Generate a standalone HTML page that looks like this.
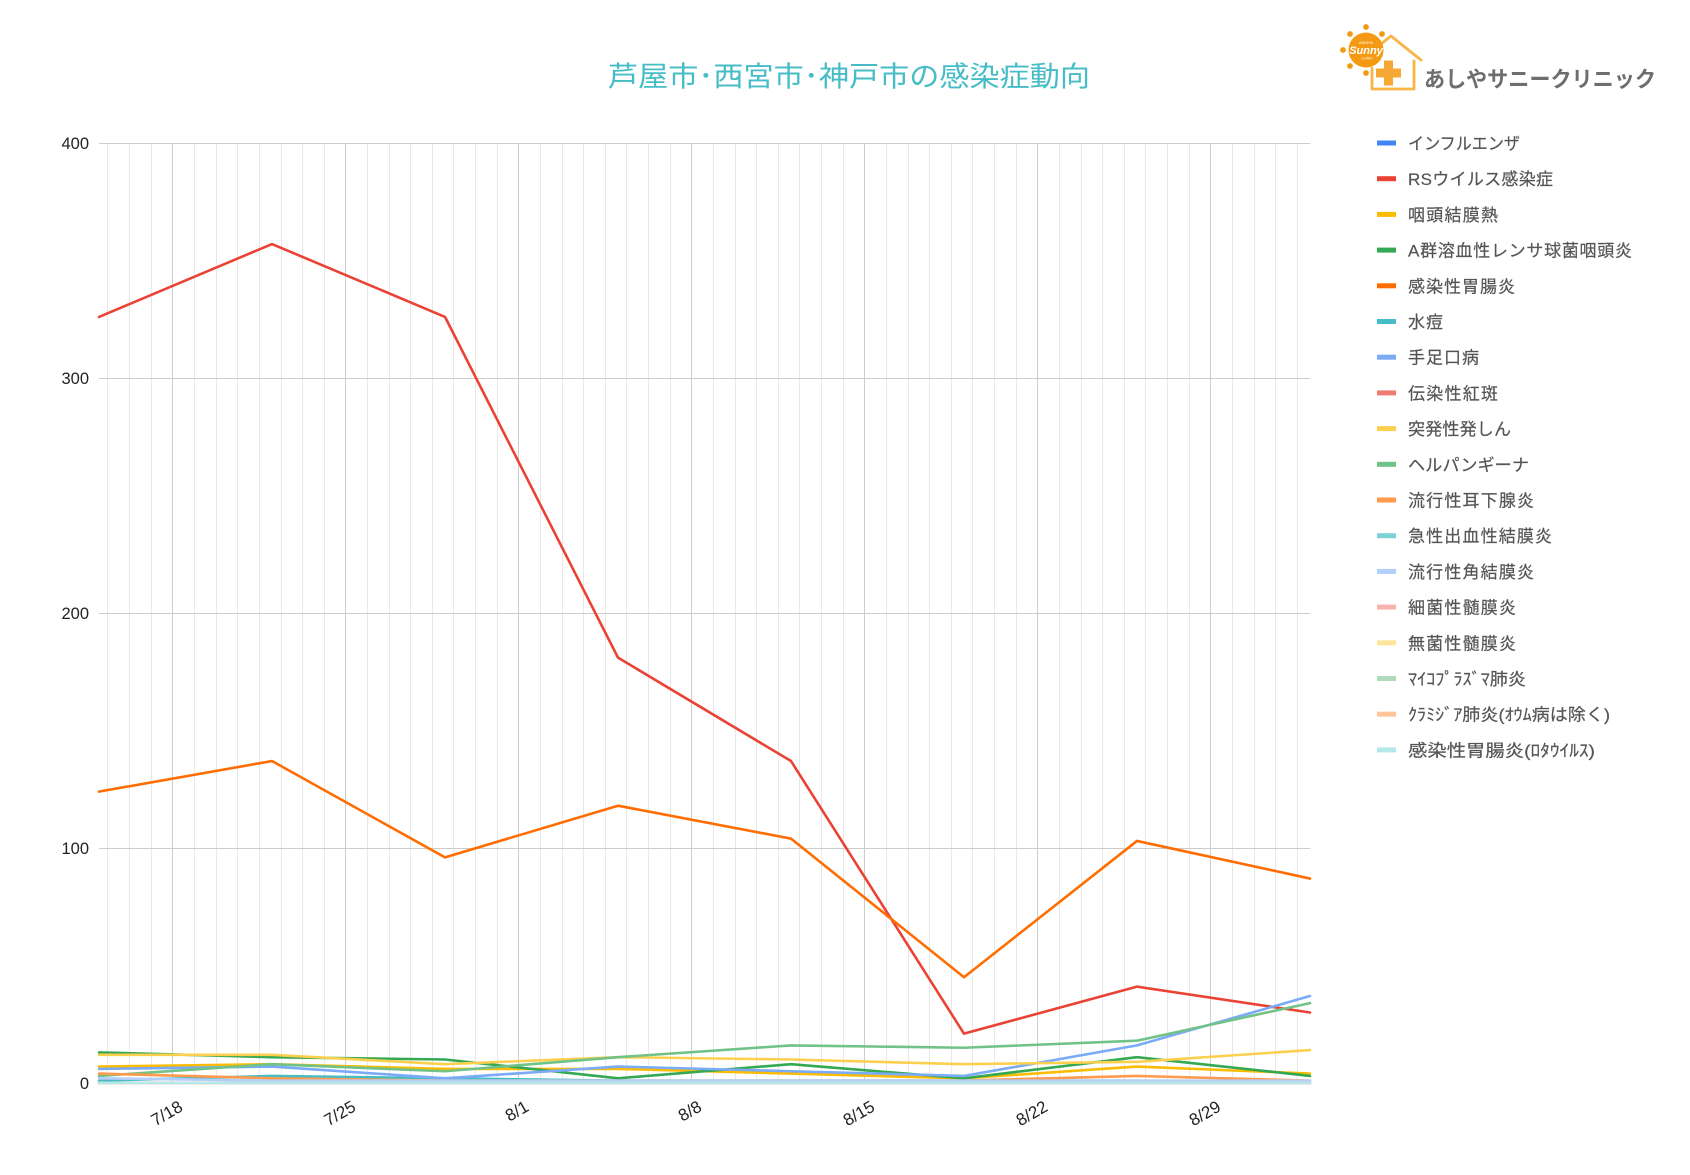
<!DOCTYPE html>
<html>
<head>
<meta charset="utf-8">
<style>
  html,body{margin:0;padding:0;background:#fff;}
  svg{display:block;}
  text{font-family:"Liberation Sans","Noto Sans CJK JP",sans-serif;}
</style>
</head>
<body>
<svg width="1690" height="1175" viewBox="0 0 1690 1175" xmlns="http://www.w3.org/2000/svg">
  <rect width="1690" height="1175" fill="#ffffff"/>

  <!-- Title -->
  <text x="608" y="86" font-size="28" fill="#46bdc6" textLength="482" lengthAdjust="spacingAndGlyphs">芦屋市･西宮市･神戸市の感染症動向</text>

  <!-- Logo -->
  <g>
    <path d="M1372,68 L1372,89 L1414,89 L1414,61 M1421,60 L1391,36 L1361,60" fill="none" stroke="#f7b548" stroke-width="2.8" stroke-linejoin="round" stroke-linecap="round"/>
    <g fill="#f39a12">
      <circle cx="1366" cy="27" r="2.9"/>
      <circle cx="1382" cy="34" r="2.9"/>
      <circle cx="1350" cy="34" r="2.9"/>
      <circle cx="1343" cy="50" r="2.9"/>
      <circle cx="1350" cy="66" r="2.9"/>
      <circle cx="1366" cy="73" r="2.9"/>
      <circle cx="1366" cy="50" r="17.5"/>
    </g>
    <text x="1366" y="44" font-size="4" fill="#fff" text-anchor="middle">ASHIYA</text>
    <text x="1366" y="54" font-size="11" font-weight="bold" font-style="italic" fill="#fff" text-anchor="middle">Sunny</text>
    <text x="1367" y="59.5" font-size="3.5" fill="#fff" text-anchor="middle">CLINIC</text>
    <rect x="1376" y="68.5" width="25" height="9" fill="#f5a833"/>
    <rect x="1384" y="60.5" width="9" height="25" fill="#f5a833"/>
    <text x="1424" y="87" font-size="22" font-weight="bold" fill="#6e6e6e" textLength="232" lengthAdjust="spacingAndGlyphs">あしやサニークリニック</text>
  </g>

  <!-- Minor vertical gridlines -->
  <path fill="none" stroke="#e8e8e8" stroke-width="1" d="
  M107.5,143V1083 M129.5,143V1083 M151.5,143V1083
  M194.5,143V1083 M216.5,143V1083 M237.5,143V1083 M259.5,143V1083 M281.5,143V1083 M302.5,143V1083 M324.5,143V1083
  M367.5,143V1083 M389.5,143V1083 M410.5,143V1083 M432.5,143V1083 M453.5,143V1083 M475.5,143V1083 M497.5,143V1083
  M540.5,143V1083 M562.5,143V1083 M583.5,143V1083 M605.5,143V1083 M626.5,143V1083 M648.5,143V1083 M670.5,143V1083
  M713.5,143V1083 M735.5,143V1083 M756.5,143V1083 M778.5,143V1083 M799.5,143V1083 M821.5,143V1083 M843.5,143V1083
  M886.5,143V1083 M908.5,143V1083 M929.5,143V1083 M951.5,143V1083 M972.5,143V1083 M994.5,143V1083 M1016.5,143V1083
  M1059.5,143V1083 M1081.5,143V1083 M1102.5,143V1083 M1124.5,143V1083 M1145.5,143V1083 M1167.5,143V1083 M1189.5,143V1083
  M1232.5,143V1083 M1254.5,143V1083 M1275.5,143V1083 M1297.5,143V1083"/>

  <!-- Major vertical gridlines -->
  <path fill="none" stroke="#cccccc" stroke-width="1" d="
  M172.5,143V1083 M345.5,143V1083 M518.5,143V1083 M691.5,143V1083 M864.5,143V1083 M1037.5,143V1083 M1210.5,143V1083"/>

  <!-- Horizontal gridlines -->
  <path fill="none" stroke="#cccccc" stroke-width="1" d="
  M99,143.5H1310 M99,378.5H1310 M99,613.5H1310 M99,848.5H1310"/>
  <path fill="none" stroke="#b8b8b8" stroke-width="1.5" d="M99,1083H1310"/>

  <!-- Y labels -->
  <g font-size="16.5" fill="#222" text-anchor="end">
    <text x="89" y="149">400</text>
    <text x="89" y="384">300</text>
    <text x="89" y="619">200</text>
    <text x="89" y="854">100</text>
    <text x="89" y="1089">0</text>
  </g>

  <!-- X labels -->
  <g font-size="17" fill="#222" text-anchor="end">
    <text x="184" y="1110" transform="rotate(-30 184 1110)">7/18</text>
    <text x="357" y="1110" transform="rotate(-30 357 1110)">7/25</text>
    <text x="530" y="1110" transform="rotate(-30 530 1110)">8/1</text>
    <text x="703" y="1110" transform="rotate(-30 703 1110)">8/8</text>
    <text x="876" y="1110" transform="rotate(-30 876 1110)">8/15</text>
    <text x="1049" y="1110" transform="rotate(-30 1049 1110)">8/22</text>
    <text x="1222" y="1110" transform="rotate(-30 1222 1110)">8/29</text>
  </g>

  <!-- Series -->
  <g transform="translate(0,1083) scale(1,-2.35)" fill="none" stroke-width="2.6" stroke-linejoin="round" stroke-linecap="round">
    <polyline vector-effect="non-scaling-stroke" stroke="#4285f4" points="99,0 272,0 445,0 618,0 791,0 964,0 1137,0 1310,0"/>
    <polyline vector-effect="non-scaling-stroke" stroke="#ea4335" points="99,326 272,357 445,326 618,181 791,137 964,21 1137,41 1310,30"/>
    <polyline vector-effect="non-scaling-stroke" stroke="#fbbc04" points="99,7 272,8 445,6 618,6 791,4 964,2 1137,7 1310,4"/>
    <polyline vector-effect="non-scaling-stroke" stroke="#34a853" points="99,13 272,11 445,10 618,2 791,8 964,2 1137,11 1310,3"/>
    <polyline vector-effect="non-scaling-stroke" stroke="#ff6d01" points="99,124 272,137 445,96 618,118 791,104 964,45 1137,103 1310,87"/>
    <polyline vector-effect="non-scaling-stroke" stroke="#46bdc6" points="99,1 272,3 445,2 618,1 791,1 964,1 1137,1 1310,0"/>
    <polyline vector-effect="non-scaling-stroke" stroke="#7baaf7" points="99,6 272,7 445,2 618,7 791,5 964,3 1137,16 1310,37"/>
    <polyline vector-effect="non-scaling-stroke" stroke="#f07b72" points="99,0 272,0 445,0 618,0 791,0 964,0 1137,0 1310,0"/>
    <polyline vector-effect="non-scaling-stroke" stroke="#fcd04f" points="99,12 272,12 445,8 618,11 791,10 964,8 1137,9 1310,14"/>
    <polyline vector-effect="non-scaling-stroke" stroke="#71c287" points="99,3 272,8 445,5 618,11 791,16 964,15 1137,18 1310,34"/>
    <polyline vector-effect="non-scaling-stroke" stroke="#ff994d" points="99,4 272,2 445,1 618,1 791,1 964,1 1137,3 1310,1"/>
    <polyline vector-effect="non-scaling-stroke" stroke="#7ed1d7" points="99,0 272,0 445,0 618,0 791,0 964,0 1137,0 1310,0"/>
    <polyline vector-effect="non-scaling-stroke" stroke="#b3cefb" points="99,2 272,1 445,1 618,1 791,1 964,1 1137,1 1310,1"/>
    <polyline vector-effect="non-scaling-stroke" stroke="#f7b4ae" points="99,0 272,0 445,0 618,0 791,0 964,0 1137,0 1310,0"/>
    <polyline vector-effect="non-scaling-stroke" stroke="#fde49b" points="99,0 272,0 445,0 618,0 791,0 964,0 1137,0 1310,0"/>
    <polyline vector-effect="non-scaling-stroke" stroke="#aedcba" points="99,0 272,0 445,0 618,0 791,0 964,0 1137,0 1310,0"/>
    <polyline vector-effect="non-scaling-stroke" stroke="#ffc599" points="99,0 272,0 445,0 618,0 791,0 964,0 1137,0 1310,0"/>
    <polyline vector-effect="non-scaling-stroke" stroke="#b5e8eb" points="99,0 272,0 445,0 618,0 791,0 964,0 1137,0 1310,0"/>
  </g>

  <!-- Legend -->
  <g>
    <rect x="1377" y="140.5" width="19" height="5" fill="#4285f4"/>
    <rect x="1377" y="176.2" width="19" height="5" fill="#ea4335"/>
    <rect x="1377" y="211.9" width="19" height="5" fill="#fbbc04"/>
    <rect x="1377" y="247.6" width="19" height="5" fill="#34a853"/>
    <rect x="1377" y="283.3" width="19" height="5" fill="#ff6d01"/>
    <rect x="1377" y="319" width="19" height="5" fill="#46bdc6"/>
    <rect x="1377" y="354.7" width="19" height="5" fill="#7baaf7"/>
    <rect x="1377" y="390.4" width="19" height="5" fill="#f07b72"/>
    <rect x="1377" y="426.1" width="19" height="5" fill="#fcd04f"/>
    <rect x="1377" y="461.8" width="19" height="5" fill="#71c287"/>
    <rect x="1377" y="497.5" width="19" height="5" fill="#ff994d"/>
    <rect x="1377" y="533.2" width="19" height="5" fill="#7ed1d7"/>
    <rect x="1377" y="568.9" width="19" height="5" fill="#b3cefb"/>
    <rect x="1377" y="604.6" width="19" height="5" fill="#f7b4ae"/>
    <rect x="1377" y="640.3" width="19" height="5" fill="#fde49b"/>
    <rect x="1377" y="676" width="19" height="5" fill="#aedcba"/>
    <rect x="1377" y="711.7" width="19" height="5" fill="#ffc599"/>
    <rect x="1377" y="747.4" width="19" height="5" fill="#b5e8eb"/>
  </g>
  <g font-size="17" fill="#555555" stroke="#555555" stroke-width="0.2">
    <text x="1408" y="149.5" textLength="112" lengthAdjust="spacingAndGlyphs">インフルエンザ</text>
    <text x="1408" y="185.2" textLength="145" lengthAdjust="spacing">RSウイルス感染症</text>
    <text x="1408" y="220.9" textLength="90" lengthAdjust="spacing">咽頭結膜熱</text>
    <text x="1408" y="256.6" textLength="224" lengthAdjust="spacing">A群溶血性レンサ球菌咽頭炎</text>
    <text x="1408" y="292.3" textLength="107" lengthAdjust="spacing">感染性胃腸炎</text>
    <text x="1408" y="328" textLength="35" lengthAdjust="spacing">水痘</text>
    <text x="1408" y="363.7" textLength="71" lengthAdjust="spacing">手足口病</text>
    <text x="1408" y="399.4" textLength="90" lengthAdjust="spacing">伝染性紅斑</text>
    <text x="1408" y="435.1" textLength="103" lengthAdjust="spacing">突発性発しん</text>
    <text x="1408" y="470.8" textLength="121" lengthAdjust="spacingAndGlyphs">ヘルパンギーナ</text>
    <text x="1408" y="506.5" textLength="126" lengthAdjust="spacing">流行性耳下腺炎</text>
    <text x="1408" y="542.2" textLength="144" lengthAdjust="spacing">急性出血性結膜炎</text>
    <text x="1408" y="577.9" textLength="126" lengthAdjust="spacing">流行性角結膜炎</text>
    <text x="1408" y="613.6" textLength="108" lengthAdjust="spacing">細菌性髄膜炎</text>
    <text x="1408" y="649.3" textLength="108" lengthAdjust="spacing">無菌性髄膜炎</text>
    <text x="1408" y="685" textLength="118" lengthAdjust="spacingAndGlyphs">ﾏｲｺﾌﾟﾗｽﾞﾏ肺炎</text>
    <text x="1408" y="720.7" textLength="202" lengthAdjust="spacingAndGlyphs">ｸﾗﾐｼﾞｱ肺炎(ｵｳﾑ病は除く)</text>
    <text x="1408" y="756.4" textLength="187" lengthAdjust="spacingAndGlyphs">感染性胃腸炎(ﾛﾀｳｲﾙｽ)</text>
  </g>
</svg>
</body>
</html>
